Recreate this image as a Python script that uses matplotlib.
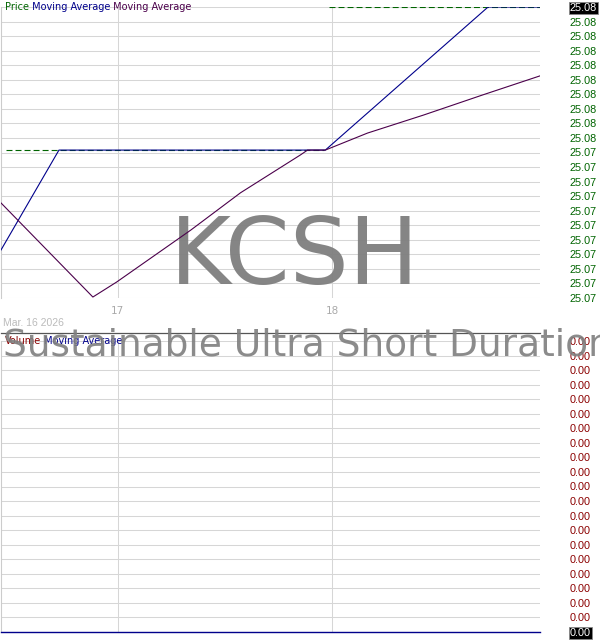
import numpy as np
import matplotlib
matplotlib.use("Agg")
from matplotlib import pyplot as plt

plt.rcParams['lines.scale_dashes'] = False

# time in days of March 2026
price_t = [16.479, 17.960, 17.975, 17.986, 18.967]
price = [25.07495, 25.07495, np.nan, 25.0779, 25.0779]

ma_fast_t = [16.456, 16.726, 17.967, 18.725, 18.967]
ma_fast = [25.07289, 25.07495, 25.07495, 25.0779, 25.0779]

ma_slow_t = [16.456, 16.884, 16.995, 17.340, 17.572, 17.851, 17.884, 17.967,
             18.163, 18.423, 18.702, 18.967]
ma_slow = [25.07386, 25.07192, 25.07223, 25.0733, 25.07407, 25.07485, 25.07495,
           25.07495, 25.0753, 25.07567, 25.07609, 25.07648]

vol_t = [16.456, 17.0, 17.5, 18.0, 18.5, 18.967]
vol_ma = [0, 0, 0, 0, 0, 0]

day_ticks = [17, 18]
day_labels = ['17', '18']
price_lo, price_hi = 25.0719, 25.0779
vol_lo, vol_hi = 0.0, 0.001

green = '#006400'
navy = '#00008b'
purple = '#4b004b'
darkred = '#8b0000'
grid = '#d6d6d6'

W, H = 600, 640
fig = plt.figure(figsize=(6, 6.4), dpi=100)
ax = fig.add_axes([1 / W, (H - 298) / H, 539 / W, 291 / H])
ax2 = fig.add_axes([1 / W, (H - 632) / H, 539 / W, 291 / H])

for a in (ax, ax2):
    for s in a.spines.values():
        s.set_visible(False)
    a.spines['left'].set_visible(True)
    a.spines['left'].set_color('#cccccc')
    a.set_xlim(ma_fast_t[0], ma_fast_t[-1])
    a.yaxis.tick_right()
    a.tick_params(length=0)
    a.grid(True, color=grid, lw=0.75)
    a.set_axisbelow(True)

# price panel
ax.set_ylim(price_lo, price_hi)
pt = np.linspace(price_lo, price_hi, 21)
ax.set_yticks(pt, ['%.2f' % v for v in pt])
ax.tick_params(axis='y', pad=21.5, labelsize=7.8, labelcolor=green)
for lab in ax.get_yticklabels():
    lab.set_family('Liberation Sans')
top = ax.get_yticklabels()[-1]
top.set_color('white')
top.set_bbox(dict(facecolor='black', edgecolor='#888888', pad=0.8, lw=0.6))
ax.set_xticks(day_ticks, day_labels)
ax.tick_params(axis='x', pad=5.5, labelsize=7.5, labelcolor='#aaaaaa')

ax.text(0.545, 0.048, 'KCSH', transform=ax.transAxes, ha='center', va='baseline',
        fontsize=67, color='#7f7f7f', alpha=0.95, zorder=1.5)

ax.plot(price_t, price, color=green, lw=0.8, dashes=(4.3, 2.2), zorder=3)
ax.plot(ma_fast_t, ma_fast, color=navy, lw=0.8, zorder=4)
ax.plot(ma_slow_t, ma_slow, color=purple, lw=0.8, zorder=4)

t1 = ax.annotate('Price', xy=(4 / 539, 1), xycoords='axes fraction', va='center',
                 fontsize=7, color=green)
t2 = ax.annotate(' Moving Average', xy=(1, 0), xycoords=t1, va='bottom',
                 fontsize=7, color=navy)
ax.annotate(' Moving Average', xy=(1, 0), xycoords=t2, va='bottom',
            fontsize=7, color=purple)
ax.annotate('Mar. 16 2026', xy=(2 / 539, 0), xycoords='axes fraction',
            xytext=(0, -25), textcoords='offset pixels', va='center',
            fontsize=7.5, color='#bbbbbb', family='Liberation Sans')

# volume panel
ax2.set_ylim(vol_lo, vol_hi)
vt = np.linspace(vol_lo, vol_hi, 21)
ax2.set_yticks(vt[::-1], ['%.2f' % v for v in vt[::-1]])
ax2.tick_params(axis='y', pad=21.5, labelsize=7.8, labelcolor=darkred)
for lab in ax2.get_yticklabels():
    lab.set_family('Liberation Sans')
bot = ax2.get_yticklabels()[-1]
bot.set_color('white')
bot.set_bbox(dict(facecolor='black', edgecolor='#888888', pad=0.8, lw=0.6))
ax2.set_xticks(day_ticks, [])
ax2.plot(vol_t, vol_ma, color=navy, lw=1.0, clip_on=False, zorder=4)
ax2.plot([0, 1], [1.0275, 1.0275], transform=ax2.transAxes, color='#555555',
         lw=0.9, clip_on=False)
v1 = ax2.annotate('Volume', xy=(4 / 539, 1), xycoords='axes fraction', va='center',
                  fontsize=7, color=darkred, zorder=6)
ax2.annotate(' Moving Average', xy=(1, 0), xycoords=v1, va='bottom',
             fontsize=7, color=navy, zorder=6)

fig.text(3 / W, (H - 355) / H, 'Sustainable Ultra Short Duration Index ETF',
         ha='left', va='baseline', fontsize=27, color='#7f7f7f', alpha=0.9)

fig.savefig('out.png', dpi=100)
